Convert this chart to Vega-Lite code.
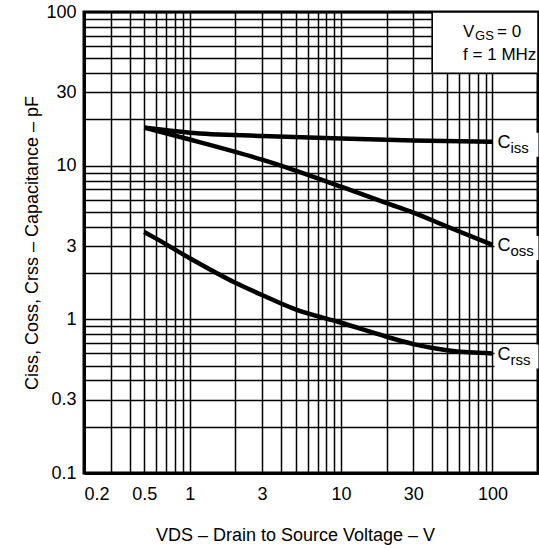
{
  "$schema": "https://vega.github.io/schema/vega-lite/v6.json",
  "width": 454,
  "height": 461,
  "autosize": "none",
  "padding": {"left": 84, "top": 12, "right": 1, "bottom": 77},
  "background": "white",
  "config": {
    "view": {"stroke": "black", "strokeWidth": 3},
    "font": "Liberation Sans",
    "axis": {
      "labelFont": "Liberation Sans",
      "titleFont": "Liberation Sans",
      "labelFontSize": 18,
      "titleFontSize": 18,
      "titleFontWeight": "normal",
      "labelColor": "black",
      "titleColor": "black",
      "ticks": false,
      "tickSize": 0,
      "domain": true,
      "domainColor": "black",
      "domainWidth": 3,
      "grid": true,
      "gridColor": "black",
      "gridOpacity": 1,
      "gridWidth": 1.5,
      "labelOverlap": false
    }
  },
  "datasets": {
    "curves": [
      {"series": "Ciss", "v": 0.5, "c": 17.7},
      {"series": "Ciss", "v": 1, "c": 16.4},
      {"series": "Ciss", "v": 3, "c": 15.6},
      {"series": "Ciss", "v": 10, "c": 15.0},
      {"series": "Ciss", "v": 30, "c": 14.6},
      {"series": "Ciss", "v": 100, "c": 14.3},
      {"series": "Coss", "v": 0.5, "c": 17.7},
      {"series": "Coss", "v": 1, "c": 14.8},
      {"series": "Coss", "v": 2, "c": 12.3},
      {"series": "Coss", "v": 3, "c": 10.95},
      {"series": "Coss", "v": 5, "c": 9.3},
      {"series": "Coss", "v": 10, "c": 7.3},
      {"series": "Coss", "v": 20, "c": 5.7},
      {"series": "Coss", "v": 30, "c": 4.95},
      {"series": "Coss", "v": 50, "c": 4.02},
      {"series": "Coss", "v": 100, "c": 3.05},
      {"series": "Crss", "v": 0.5, "c": 3.7},
      {"series": "Crss", "v": 0.6, "c": 3.35},
      {"series": "Crss", "v": 1, "c": 2.5},
      {"series": "Crss", "v": 2, "c": 1.73},
      {"series": "Crss", "v": 3, "c": 1.44},
      {"series": "Crss", "v": 5, "c": 1.16},
      {"series": "Crss", "v": 10, "c": 0.95},
      {"series": "Crss", "v": 20, "c": 0.77},
      {"series": "Crss", "v": 30, "c": 0.69},
      {"series": "Crss", "v": 50, "c": 0.63},
      {"series": "Crss", "v": 70, "c": 0.61},
      {"series": "Crss", "v": 100, "c": 0.6}
    ],
    "labels": [
      {"series": "Ciss", "main": "C", "sub": "iss", "v": 100, "c": 14.3},
      {"series": "Coss", "main": "C", "sub": "oss", "v": 100, "c": 3.05},
      {"series": "Crss", "main": "C", "sub": "rss", "v": 100, "c": 0.6}
    ],
    "note": [
      {"line": 1, "v": 64, "c": 68.5, "main": "V", "sub": "GS", "rest": "= 0"},
      {"line": 2, "v": 64, "c": 48.8, "main": "f = 1 MHz", "sub": "", "rest": ""}
    ]
  },
  "layer": [
    {
      "data": {"name": "curves"},
      "mark": {"type": "line", "color": "black", "strokeWidth": 4.5, "interpolate": "monotone", "strokeCap": "butt"},
      "encoding": {
        "x": {
          "field": "v",
          "type": "quantitative",
          "scale": {"type": "log", "domain": [0.2, 200], "nice": false},
          "axis": {
            "values": [0.2, 0.3, 0.4, 0.5, 0.6, 0.7, 0.8, 0.9, 1, 2, 3, 4, 5, 6, 7, 8, 9, 10, 20, 30, 40, 50, 60, 70, 80, 90, 100],
            "format": "~g",
            "labelExpr": "indexof([0.2, 0.5, 1, 3, 10, 30, 100], datum.value) >= 0 ? datum.label : ''",
            "labelPadding": 12,
            "title": "VDS – Drain to Source Voltage – V",
            "titlePadding": 23,
            "titleX": 211
          }
        },
        "y": {
          "field": "c",
          "type": "quantitative",
          "scale": {"type": "log", "domain": [0.1, 100], "nice": false},
          "axis": {
            "values": [0.1, 0.2, 0.3, 0.4, 0.5, 0.6, 0.7, 0.8, 0.9, 1, 2, 3, 4, 5, 6, 7, 8, 9, 10, 20, 30, 40, 50, 60, 70, 80, 90, 100],
            "format": "~g",
            "labelExpr": "indexof([0.1, 0.3, 1, 3, 10, 30, 100], datum.value) >= 0 ? datum.label : ''",
            "labelPadding": 8,
            "title": "Ciss, Coss, Crss – Capacitance – pF",
            "titlePadding": 4
          }
        },
        "detail": {"field": "series"}
      }
    },
    {
      "data": {"values": [{"x1": 40, "x2": 200, "y1": 40, "y2": 100}]},
      "mark": {"type": "rect", "fill": "white", "stroke": "black", "strokeWidth": 1.5},
      "encoding": {
        "x": {"field": "x1", "type": "quantitative"},
        "x2": {"field": "x2"},
        "y": {"field": "y1", "type": "quantitative"},
        "y2": {"field": "y2"}
      }
    },
    {
      "data": {"name": "labels"},
      "mark": {"type": "rect", "fill": "white", "width": 44, "height": 24, "xOffset": 24, "yOffset": 3},
      "encoding": {
        "x": {"field": "v", "type": "quantitative"},
        "y": {"field": "c", "type": "quantitative"}
      }
    },
    {
      "data": {"name": "labels"},
      "mark": {"type": "text", "align": "left", "baseline": "alphabetic", "fontSize": 18, "dx": 5, "dy": 6.5, "color": "black", "font": "Liberation Sans"},
      "encoding": {
        "x": {"field": "v", "type": "quantitative"},
        "y": {"field": "c", "type": "quantitative"},
        "text": {"field": "main"}
      }
    },
    {
      "data": {"name": "labels"},
      "mark": {"type": "text", "align": "left", "baseline": "alphabetic", "fontSize": 15, "dx": 18, "dy": 11.5, "color": "black", "font": "Liberation Sans"},
      "encoding": {
        "x": {"field": "v", "type": "quantitative"},
        "y": {"field": "c", "type": "quantitative"},
        "text": {"field": "sub"}
      }
    },
    {
      "data": {"name": "note"},
      "mark": {"type": "text", "align": "left", "baseline": "alphabetic", "fontSize": 17, "color": "black", "font": "Liberation Sans"},
      "encoding": {
        "x": {"field": "v", "type": "quantitative"},
        "y": {"field": "c", "type": "quantitative"},
        "text": {"field": "main"}
      }
    },
    {
      "data": {"name": "note"},
      "transform": [{"filter": "datum.sub != ''"}],
      "mark": {"type": "text", "align": "left", "baseline": "alphabetic", "fontSize": 13, "dx": 12, "dy": 3, "color": "black", "font": "Liberation Sans"},
      "encoding": {
        "x": {"field": "v", "type": "quantitative"},
        "y": {"field": "c", "type": "quantitative"},
        "text": {"field": "sub"}
      }
    },
    {
      "data": {"name": "note"},
      "transform": [{"filter": "datum.rest != ''"}],
      "mark": {"type": "text", "align": "left", "baseline": "alphabetic", "fontSize": 17, "dx": 34, "color": "black", "font": "Liberation Sans"},
      "encoding": {
        "x": {"field": "v", "type": "quantitative"},
        "y": {"field": "c", "type": "quantitative"},
        "text": {"field": "rest"}
      }
    }
  ]
}
